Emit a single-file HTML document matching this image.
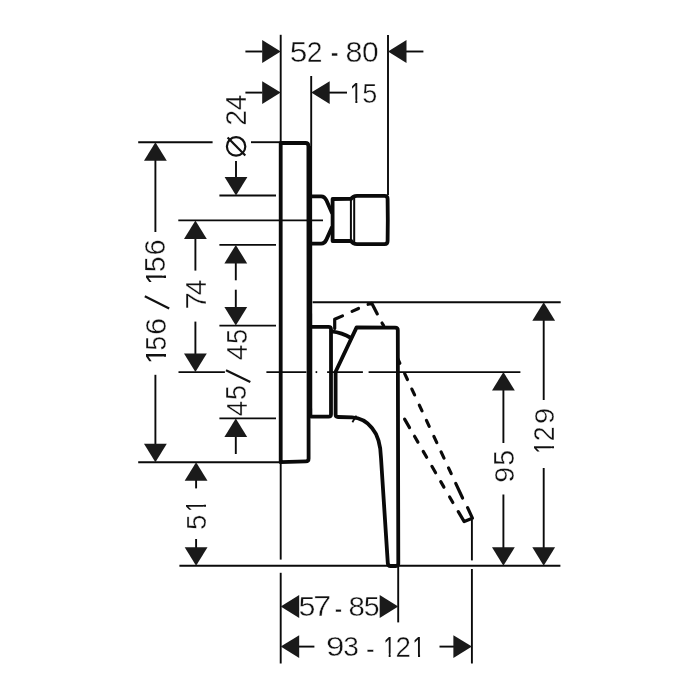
<!DOCTYPE html>
<html><head><meta charset="utf-8"><title>Dimension drawing</title>
<style>html,body{margin:0;padding:0;background:#fff;width:700px;height:700px;overflow:hidden;font-family:"Liberation Sans",sans-serif}svg{display:block;filter:grayscale(1)}</style>
</head><body>
<svg width="700" height="700" viewBox="0 0 700 700">
<defs><clipPath id="c1" clipPathUnits="userSpaceOnUse"><path d="M-50,-200 H150 V-11 H34.2 V10 H24.9 V-11 H-50 Z"/></clipPath></defs>
<rect width="700" height="700" fill="#fff"/>
<g stroke="#0a0a0a" stroke-width="1.9" fill="none"><line x1="280.7" y1="34.8" x2="280.7" y2="143"/><line x1="280.7" y1="462" x2="280.7" y2="559.6"/><line x1="280.7" y1="572.8" x2="280.7" y2="663.5"/><line x1="388" y1="35.1" x2="388" y2="195"/><line x1="311.2" y1="76" x2="311.2" y2="146"/><line x1="310.9" y1="146" x2="311.1" y2="417" stroke-width="2.4"/><line x1="398.2" y1="566" x2="398.2" y2="622.4"/><line x1="471.9" y1="520" x2="471.9" y2="560.4"/><line x1="471.9" y1="569" x2="471.9" y2="663.5"/><line x1="245.4" y1="51.5" x2="262.5" y2="51.5"/><line x1="405" y1="51.5" x2="423.4" y2="51.5"/><line x1="245.4" y1="92.6" x2="262.5" y2="92.6"/><line x1="329" y1="92.6" x2="347" y2="92.6"/><line x1="138.2" y1="142.2" x2="212.6" y2="142.2"/><line x1="251" y1="142.2" x2="281" y2="142.2"/><line x1="219.4" y1="195.5" x2="276" y2="195.5"/><line x1="178.3" y1="220.4" x2="323" y2="220.4"/><line x1="219.4" y1="244.9" x2="276" y2="244.9"/><line x1="219.4" y1="325.6" x2="276" y2="325.6"/><line x1="178.5" y1="372.1" x2="224.9" y2="372.1"/><line x1="266.4" y1="372.1" x2="306.4" y2="372.1"/><line x1="315.6" y1="372.1" x2="317.2" y2="372.1"/><line x1="327.1" y1="372.1" x2="362.9" y2="372.1"/><line x1="368.6" y1="372.1" x2="520.4" y2="372.1"/><line x1="219.4" y1="418.4" x2="276" y2="418.4"/><line x1="138.2" y1="462.2" x2="281" y2="462.2"/><line x1="179.4" y1="565.8" x2="560.4" y2="565.8"/><line x1="312.6" y1="302.2" x2="560.7" y2="302.2"/><line x1="155.4" y1="160" x2="155.4" y2="232"/><line x1="155.4" y1="374.8" x2="155.4" y2="445"/><line x1="195.4" y1="238" x2="195.4" y2="270.6"/><line x1="195.4" y1="321.6" x2="195.4" y2="354"/><line x1="236" y1="161" x2="236" y2="178"/><line x1="235.8" y1="262" x2="235.8" y2="280.3"/><line x1="235.8" y1="289.7" x2="235.8" y2="308"/><line x1="235.8" y1="436" x2="235.8" y2="454"/><line x1="196.1" y1="480" x2="196.1" y2="488.4"/><line x1="196.1" y1="539" x2="196.1" y2="548"/><line x1="503.4" y1="390" x2="503.4" y2="443"/><line x1="503.4" y1="494.5" x2="503.4" y2="548"/><line x1="543.7" y1="320" x2="543.7" y2="400"/><line x1="543.7" y1="468" x2="543.7" y2="548"/><line x1="298" y1="646.6" x2="314.4" y2="646.6"/><line x1="439.5" y1="646.6" x2="454" y2="646.6"/><line x1="350.9" y1="199" x2="350.9" y2="241" stroke-width="2"/><line x1="354.2" y1="198" x2="354.2" y2="242" stroke-width="2"/><line x1="352.4" y1="422.2" x2="356.4" y2="415.6" stroke-width="1.8"/></g>
<g fill="#1a1a1a" stroke="none"><polygon points="280.70,51.50 262.20,40.10 262.20,62.90"/><polygon points="388.00,51.50 406.50,40.10 406.50,62.90"/><polygon points="280.70,92.60 262.20,81.20 262.20,104.00"/><polygon points="311.20,92.60 329.70,81.20 329.70,104.00"/><polygon points="155.40,142.20 144.00,160.70 166.80,160.70"/><polygon points="155.40,462.20 144.00,443.70 166.80,443.70"/><polygon points="195.40,220.40 184.00,238.90 206.80,238.90"/><polygon points="195.40,372.10 184.00,353.60 206.80,353.60"/><polygon points="236.00,195.50 224.60,177.00 247.40,177.00"/><polygon points="235.80,244.90 224.40,263.40 247.20,263.40"/><polygon points="235.80,325.60 224.40,307.10 247.20,307.10"/><polygon points="235.80,418.40 224.40,436.90 247.20,436.90"/><polygon points="196.10,462.20 184.70,480.70 207.50,480.70"/><polygon points="196.10,565.80 184.70,547.30 207.50,547.30"/><polygon points="503.40,372.10 492.00,390.60 514.80,390.60"/><polygon points="503.40,565.80 492.00,547.30 514.80,547.30"/><polygon points="543.70,302.20 532.30,320.70 555.10,320.70"/><polygon points="543.70,565.80 532.30,547.30 555.10,547.30"/><polygon points="280.70,606.50 299.20,595.10 299.20,617.90"/><polygon points="398.20,606.50 379.70,595.10 379.70,617.90"/><polygon points="280.70,646.60 299.20,635.20 299.20,658.00"/><polygon points="471.90,646.60 453.40,635.20 453.40,658.00"/></g>
<g stroke="#0a0a0a" stroke-width="3.8" fill="none" stroke-linejoin="round" stroke-linecap="round"><path d="M280.7,143 L305.5,143 Q308.4,143 308.4,146 L308.6,458.5 Q308.6,461.3 305.8,461.4 L280.7,462.2 Z"/><path d="M311.4,196.3 L321.2,196.3 Q324.6,196.3 326.4,200.3 L331.8,212.6"/><path d="M331.8,227.6 L326.4,239.6 Q324.6,243.6 321.2,243.6 L311.4,243.6"/><path d="M351,241 L332.6,241 L332.6,199 L351,198.8"/><path d="M351,198.8 Q353,195.8 357,195.8 L384.5,195.8 Q387.6,195.8 387.6,199 L387.8,220 L387.6,241 Q387.6,244 384.5,244.2 L357,244.2 Q353,244.2 351,241"/><path d="M311.5,326.8 L328.5,326.8 Q331,326.8 331,329.3 L331,414.2 Q331,416.7 328.5,416.7 L311.5,416.7"/><path d="M331.6,331.4 Q342,332.6 351,338"/><path d="M335.6,371.8 L356.6,327.4 L395.2,327.7 Q397.8,327.7 397.8,330.3 L398.3,563.6 Q398.3,566 396,566 L390.5,566 Q388,566 387.8,563 L381,458 Q380.5,438 372,428 Q364,418 352,417.4 L338,417 Q335.6,417 335.6,414.5 Z"/></g>
<g stroke="#0a0a0a" stroke-width="3.2" fill="none" stroke-linecap="round" stroke-linejoin="round"><line x1="397.76" y1="358.78" x2="399.83" y2="363.22"/><line x1="404.68" y1="373.65" x2="407.43" y2="379.54"/><line x1="411.86" y1="389.06" x2="414.60" y2="394.95"/><line x1="419.32" y1="405.11" x2="422.02" y2="410.91"/><line x1="426.45" y1="420.43" x2="429.20" y2="426.32"/><line x1="433.88" y1="436.38" x2="436.79" y2="442.64"/><line x1="441.09" y1="451.89" x2="444.01" y2="458.14"/><line x1="448.52" y1="467.84" x2="451.22" y2="473.65"/><line x1="455.73" y1="483.35" x2="462.57" y2="498.04"/><polyline points="467.6,507.6 472.4,518.2 464.2,521.6 458.3,511.6"/><line x1="404.60" y1="419.13" x2="409.51" y2="427.61"/><line x1="414.52" y1="436.27" x2="417.92" y2="442.16"/><line x1="423.23" y1="451.33" x2="426.64" y2="457.22"/><line x1="431.89" y1="466.31" x2="435.60" y2="472.71"/><line x1="440.76" y1="481.63" x2="443.91" y2="487.08"/><line x1="449.62" y1="496.95" x2="452.83" y2="502.49"/><polyline points="334.7,328.5 334.7,319.2 342.5,315.9"/><line x1="352.1" y1="311.4" x2="358.5" y2="308.5"/><polyline points="368.1,304.3 371.9,303.4 377.3,313.9"/><line x1="382" y1="323" x2="383.6" y2="325.6"/></g>
<g stroke="#111" stroke-width="2.2" fill="none"><line x1="144.8" y1="296.2" x2="169.2" y2="308.4"/><line x1="226" y1="370.2" x2="250.3" y2="382.1"/><circle cx="236.1" cy="146.4" r="9.2"/><line x1="227.6" y1="137.6" x2="245.3" y2="155.6"/></g>
<g fill="#111" stroke="#fff" stroke-width="1.4" font-family="Liberation Sans, sans-serif" font-size="100"><text transform="matrix(0.3164,0,0,0.2924,289.73,62.11)">5</text><text transform="matrix(0.2832,0,0,0.2922,306.68,62.40)">2</text><text transform="matrix(0.3047,0,0,0.2881,345.38,62.12)">8</text><text transform="matrix(0.2991,0,0,0.2881,361.93,62.12)">0</text><text transform="matrix(0.2335,0,0,0.3840,330.66,64.70)">-</text><text transform="matrix(0.2134,0,0,0.2892,350.05,103.00)" clip-path="url(#c1)" stroke="none">1</text><text transform="matrix(0.2700,0,0,0.2852,362.22,102.72)">5</text><text transform="matrix(0.3037,0,0,0.2852,298.38,616.12)">5</text><text transform="matrix(0.3234,0,0,0.2892,313.34,616.40)">7</text><text transform="matrix(0.2941,0,0,0.2811,348.42,616.13)">8</text><text transform="matrix(0.2847,0,0,0.2852,363.66,616.12)">5</text><text transform="matrix(0.2212,0,0,0.3328,334.82,619.54)">-</text><text transform="matrix(0.3312,0,0,0.2853,325.95,656.42)">9</text><text transform="matrix(0.2805,0,0,0.2853,343.33,656.42)">3</text><text transform="matrix(0.2093,0,0,0.2936,383.49,656.70)" clip-path="url(#c1)" stroke="none">1</text><text transform="matrix(0.2766,0,0,0.2893,395.61,656.70)">2</text><text transform="matrix(0.2175,0,0,0.2936,412.61,656.70)" clip-path="url(#c1)" stroke="none">1</text><text transform="matrix(0.2580,0,0,0.3072,365.95,658.96)">-</text><text transform="matrix(0,-0.2838,0.2907,0,246.40,110.25)">4</text><text transform="matrix(0,-0.2876,0.2864,0,246.40,125.85)">2</text><text transform="matrix(0,-0.2926,0.2895,0,165.22,255.49)">6</text><text transform="matrix(0,-0.2847,0.2938,0,165.21,272.14)">5</text><text transform="matrix(0,-0.2668,0.2980,0,165.50,284.57)" clip-path="url(#c1)" stroke="none">1</text><text transform="matrix(0,-0.3099,0.2867,0,165.52,334.97)">6</text><text transform="matrix(0,-0.2636,0.2909,0,165.52,350.46)">5</text><text transform="matrix(0,-0.3037,0.2951,0,165.80,364.32)" clip-path="url(#c1)" stroke="none">1</text><text transform="matrix(0,-0.2818,0.2994,0,205.70,295.25)">4</text><text transform="matrix(0,-0.3102,0.2994,0,205.70,309.39)">7</text><text transform="matrix(0,-0.2721,0.2924,0,246.51,343.99)">5</text><text transform="matrix(0,-0.2818,0.2965,0,246.80,360.25)">4</text><text transform="matrix(0,-0.2700,0.2924,0,246.41,399.88)">5</text><text transform="matrix(0,-0.2739,0.2965,0,246.70,416.23)">4</text><text transform="matrix(0,-0.2011,0.2892,0,206.10,511.73)" clip-path="url(#c1)" stroke="none">1</text><text transform="matrix(0,-0.2784,0.2852,0,205.82,530.01)">5</text><text transform="matrix(0,-0.2847,0.2881,0,513.72,465.64)">5</text><text transform="matrix(0,-0.2858,0.2839,0,513.72,482.64)">9</text><text transform="matrix(0,-0.2901,0.2839,0,553.72,423.96)">9</text><text transform="matrix(0,-0.2678,0.2879,0,554.00,441.35)">2</text><text transform="matrix(0,-0.2134,0.2922,0,554.00,453.55)" clip-path="url(#c1)" stroke="none">1</text></g>
</svg>
</body></html>
